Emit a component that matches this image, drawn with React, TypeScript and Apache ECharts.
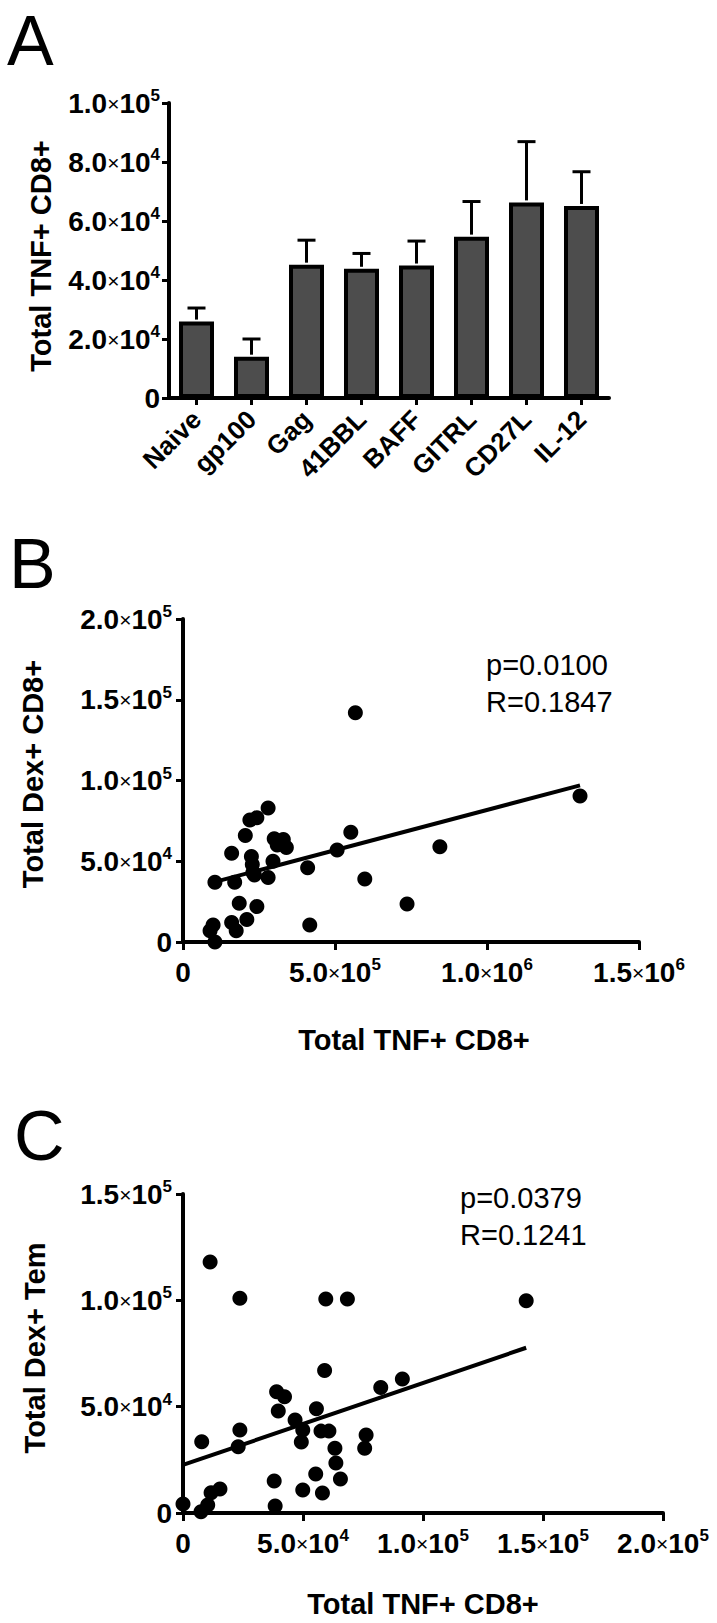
import React, { useEffect, useRef } from "react";
import * as echarts from "echarts";

const FONT = "'Liberation Sans', Arial, sans-serif";

// Panel A: bar chart
const categories = ["Naive", "gp100", "Gag", "41BBL", "BAFF", "GITRL", "CD27L", "IL-12"];
const barMeans = [25900, 14000, 45200, 43800, 44900, 54700, 66300, 65100];
const barErrTops = [30500, 20000, 53500, 49000, 53200, 66600, 86900, 76700];

// Tick labels
const aYTicks = ["0", "2.0×10^4", "4.0×10^4", "6.0×10^4", "8.0×10^4", "1.0×10^5"];
const bYTicks = ["0", "5.0×10^4", "1.0×10^5", "1.5×10^5", "2.0×10^5"];
const bXTicks = ["0", "5.0×10^5", "1.0×10^6", "1.5×10^6"];
const cYTicks = ["0", "5.0×10^4", "1.0×10^5", "1.5×10^5"];
const cXTicks = ["0", "5.0×10^4", "1.0×10^5", "1.5×10^5", "2.0×10^5"];

// Panel B: scatter (Total TNF+ CD8+ vs Total Dex+ CD8+)
const bTnf = [
  567000, 1306000, 280000, 243000, 220000, 552000, 205000, 300000, 330000, 845000,
  507000, 160000, 225000, 228000, 230000, 310000, 340000, 296000, 280000, 410000,
  598000, 105000, 170000, 235000, 737000, 185000, 243000, 210000, 417000, 99000,
  160000, 175000, 89000, 105000,
];
const bDex = [
  142000, 90400, 83000, 77000, 75500, 68000, 66000, 64000, 63500, 59000,
  57000, 55000, 53000, 48000, 43000, 60000, 58500, 50000, 40000, 46000,
  39000, 37000, 37000, 41500, 23500, 24000, 22000, 14000, 10500, 10500,
  12000, 7000, 7000, 0,
];
const bFitX = [105000, 1306000];
const bFitY = [37200, 97000];

// Panel C: scatter (Total TNF+ CD8+ vs Total Dex+ Tem)
const cTnf = [
  11300, 23700, 59500, 68500, 143000, 59000, 91400, 82400, 39000, 42300,
  39700, 55600, 46700, 49900, 49300, 57500, 60800, 23700, 23000, 7800,
  76300, 75700, 63300, 63700, 55300, 65600, 38000, 49900, 58100, 15400,
  11700, 38400, 10300, 7500, 0,
];
const cDex = [
  118000, 101000, 100600, 100600, 99800, 67000, 63000, 59000, 57000, 54700,
  48000, 49000, 43700, 39000, 33400, 38500, 38500, 39000, 31200, 33500,
  36700, 30500, 30500, 23500, 18300, 16000, 15000, 10800, 9400, 11300,
  9500, 3300, 3800, 600, 4200,
];
const cFitX = [0, 143000];
const cFitY = [22600, 77700];

const pTextB = ["p=0.0100", "R=0.1847"];
const pTextC = ["p=0.0379", "R=0.1241"];

function richLabel(s: string): string {
  if (s.indexOf("^") < 0) return `{b|${s}}`;
  const [m, e] = s.split("^");
  const [mant, base] = m.split("×");
  return `{b|${mant}}{x|×}{b|${base}}{s|${e}}`;
}

const richStyles = {
  b: { fontSize: 28, fontWeight: "bold", fontFamily: FONT, color: "#000", lineHeight: 32 },
  x: { fontSize: 21, fontWeight: "normal", fontFamily: FONT, color: "#000", lineHeight: 32 },
  s: { fontSize: 17, fontWeight: "bold", fontFamily: FONT, color: "#000", lineHeight: 19, verticalAlign: "top" },
};

const axisLineStyle = { show: true, lineStyle: { color: "#000", width: 4 } };

function valueAxis(gridIndex: number, max: number, interval: number, labels: string[], margin: number, tickLen: number) {
  return {
    type: "value",
    gridIndex,
    min: 0,
    max,
    interval,
    axisLine: { ...axisLineStyle, onZero: false },
    axisTick: { show: true, length: tickLen, lineStyle: { color: "#000", width: 3 } },
    splitLine: { show: false },
    axisLabel: {
      margin,
      formatter: (v: number) => richLabel(labels[Math.round(v / interval)] ?? ""),
      rich: richStyles,
    },
  };
}

function txt(x: number, y: number, text: string, font: string, align = "left", rotation = 0) {
  return {
    type: "text",
    x,
    y,
    rotation,
    style: { text, font, fill: "#000", align, verticalAlign: "middle" },
  };
}

export default function App() {
  const ref = useRef<HTMLDivElement>(null);
  useEffect(() => {
    if (!ref.current) return;
    const chart = echarts.init(ref.current, null, { renderer: "svg" });
    const titleFont = `bold 29px ${FONT}`;
    const letterFont = `normal 70px ${FONT}`;
    const statFont = `normal 29px ${FONT}`;
    chart.setOption({
      animation: false,
      backgroundColor: "#fff",
      grid: [
        { left: 169, top: 103, width: 440, height: 295 },
        { left: 183, top: 619, width: 456, height: 323 },
        { left: 183, top: 1194, width: 480, height: 319 },
      ],
      xAxis: [
        {
          type: "category",
          gridIndex: 0,
          data: categories,
          axisLine: { show: true, lineStyle: { color: "#000", width: 4 } },
          axisTick: { show: true, alignWithLabel: true, length: 7, lineStyle: { color: "#000", width: 3 } },
          axisLabel: {
            interval: 0,
            rotate: 45,
            margin: 17,
            fontSize: 26,
            fontWeight: "bold",
            fontFamily: FONT,
            color: "#000",
          },
        },
        valueAxis(1, 1500000, 500000, bXTicks, 14, 8),
        valueAxis(2, 200000, 50000, cXTicks, 14, 8),
      ],
      yAxis: [
        valueAxis(0, 100000, 20000, aYTicks, 9, 7),
        valueAxis(1, 200000, 50000, bYTicks, 11, 7),
        valueAxis(2, 150000, 50000, cYTicks, 11, 7),
      ],
      series: [
        {
          type: "bar",
          xAxisIndex: 0,
          yAxisIndex: 0,
          data: barMeans,
          barWidth: 35,
          itemStyle: { color: "#4d4d4d", borderColor: "#000", borderWidth: 4 },
          z: 2,
        },
        {
          type: "custom",
          xAxisIndex: 0,
          yAxisIndex: 0,
          z: 3,
          encode: { x: 0, y: [1, 2] },
          data: categories.map((_, i) => [i, barMeans[i], barErrTops[i]]),
          renderItem: (params: any, api: any) => {
            const i = api.value(0);
            const top = api.coord([i, api.value(2)]);
            const base = api.coord([i, api.value(1)]);
            return {
              type: "group",
              children: [
                {
                  type: "line",
                  shape: { x1: top[0], y1: base[1] - 2, x2: top[0], y2: top[1] },
                  style: { stroke: "#000", lineWidth: 3 },
                },
                {
                  type: "line",
                  shape: { x1: top[0] - 9, y1: top[1], x2: top[0] + 9, y2: top[1] },
                  style: { stroke: "#000", lineWidth: 3 },
                },
              ],
            };
          },
        },
        {
          type: "scatter",
          xAxisIndex: 1,
          yAxisIndex: 1,
          clip: false,
          symbolSize: 15,
          itemStyle: { color: "#000", opacity: 1 },
          data: bTnf.map((x, i) => [x, bDex[i]]),
        },
        {
          type: "line",
          xAxisIndex: 1,
          yAxisIndex: 1,
          symbol: "none",
          lineStyle: { color: "#000", width: 4 },
          data: bFitX.map((x, i) => [x, bFitY[i]]),
        },
        {
          type: "scatter",
          xAxisIndex: 2,
          yAxisIndex: 2,
          clip: false,
          symbolSize: 15,
          itemStyle: { color: "#000", opacity: 1 },
          data: cTnf.map((x, i) => [x, cDex[i]]),
        },
        {
          type: "line",
          xAxisIndex: 2,
          yAxisIndex: 2,
          symbol: "none",
          lineStyle: { color: "#000", width: 4 },
          data: cFitX.map((x, i) => [x, cFitY[i]]),
        },
      ],
      graphic: [
        txt(7, 41, "A", letterFont),
        txt(9, 564, "B", letterFont),
        txt(14, 1136, "C", letterFont),
        txt(41, 256, "Total TNF+ CD8+", titleFont, "center", Math.PI / 2),
        txt(33, 774, "Total Dex+ CD8+", titleFont, "center", Math.PI / 2),
        txt(414, 1040, "Total TNF+ CD8+", titleFont, "center"),
        txt(35, 1348, "Total Dex+ Tem", titleFont, "center", Math.PI / 2),
        txt(423, 1604, "Total TNF+ CD8+", titleFont, "center"),
        txt(486, 665, pTextB[0], statFont),
        txt(486, 702, pTextB[1], statFont),
        txt(460, 1198, pTextC[0], statFont),
        txt(460, 1235, pTextC[1], statFont),
      ],
    });
    return () => chart.dispose();
  }, []);
  return (
    <div
      ref={ref}
      style={{ position: "absolute", left: 0, top: 0, width: 717, height: 1623, background: "#fff" }}
    />
  );
}
